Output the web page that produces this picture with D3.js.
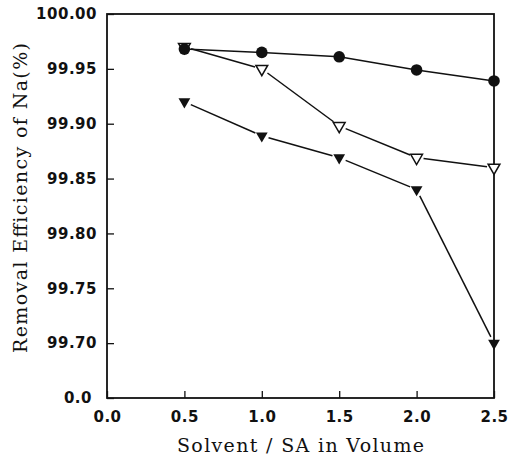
<!DOCTYPE html>
<html>
<head>
<meta charset="utf-8">
<script src="https://cdn.jsdelivr.net/npm/d3@7"></script>
<style>
  body { margin: 0; background: #fff; }
  .tick text { font-family: "DejaVu Sans", sans-serif; font-weight: bold; font-size: 15px; letter-spacing: 0.5px; fill: #111; }
  .title { font-family: "DejaVu Serif", serif; font-size: 19px; fill: #111; }
</style>
</head>
<body>
<script>
// Data
var ratio = [0.5, 1.0, 1.5, 2.0, 2.5];
var circleSeries = [99.968, 99.965, 99.961, 99.949, 99.939];
var openTriSeries = [99.970, 99.950, 99.898, 99.869, 99.860];
var filledTriSeries = [99.920, 99.889, 99.869, 99.840, 99.700];

var xTicks = [0.0, 0.5, 1.0, 1.5, 2.0, 2.5];
var yTicks = [99.65, 99.70, 99.75, 99.80, 99.85, 99.90, 99.95, 100.00];
var yTickLabels = ["0.0", "99.70", "99.75", "99.80", "99.85", "99.90", "99.95", "100.00"];

// Width and height
var w = 511;
var h = 461;
var plotLeft = 107, plotRight = 494, plotTop = 14, plotBottom = 398;

var x = d3.scaleLinear().domain([0, 2.5]).range([plotLeft, plotRight]);
var y = d3.scaleLinear().domain([99.65, 100.0]).range([plotBottom, plotTop]);

var svg = d3.select("body")
      .append("svg")
      .attr("width", w)
      .attr("height", h);

// Frame
svg.append("rect")
   .attr("x", plotLeft).attr("y", plotTop)
   .attr("width", plotRight - plotLeft).attr("height", plotBottom - plotTop)
   .attr("fill", "none").attr("stroke", "#111").attr("stroke-width", 1.8);

// Axes, ticks pointing inward
var xAxis = d3.axisBottom(x)
      .tickValues(xTicks)
      .tickSize(-7)
      .tickPadding(13)
      .tickFormat(d3.format(".1f"));

var yAxis = d3.axisLeft(y)
      .tickValues(yTicks)
      .tickSize(-7)
      .tickPadding(10)
      .tickFormat(function(d, i) { return yTickLabels[i]; });

svg.append("g")
   .attr("transform", "translate(0," + plotBottom + ")")
   .call(xAxis)
   .call(function(g) { g.select(".domain").remove(); })
   .selectAll("line").attr("stroke", "#111").attr("stroke-width", 1.3);

var yg = svg.append("g")
   .attr("transform", "translate(" + plotLeft + ",0)")
   .call(yAxis)
   .call(function(g) { g.select(".domain").remove(); });
yg.selectAll("line").attr("stroke", "#111").attr("stroke-width", 1.3);
// the broken-axis "0.0" sits a little further left
yg.selectAll(".tick text").filter(function(d) { return d === 99.65; }).attr("dx", -5);

// Axis titles
svg.append("text")
   .attr("class", "title")
   .attr("x", (plotLeft + plotRight) / 2)
   .attr("y", 452)
   .attr("text-anchor", "middle")
   .attr("textLength", 247)
   .attr("lengthAdjust", "spacing")
   .text("Solvent / SA in Volume");

svg.append("text")
   .attr("class", "title")
   .attr("transform", "translate(27," + 198 + ") rotate(-90)")
   .attr("text-anchor", "middle")
   .attr("textLength", 310)
   .attr("lengthAdjust", "spacing")
   .text("Removal Efficiency of Na(%)");

// Build points for each series
function pts(vals) {
  return ratio.map(function(r, i) { return [x(r), y(vals[i])]; });
}

// Lines, cut short near the triangle markers
function drawLine(vals, gap) {
  var p = pts(vals);
  for (var i = 0; i < p.length - 1; i++) {
    var dx = p[i + 1][0] - p[i][0], dy = p[i + 1][1] - p[i][1];
    var len = Math.sqrt(dx * dx + dy * dy);
    var ux = dx / len, uy = dy / len;
    svg.append("line")
       .attr("x1", p[i][0] + ux * gap).attr("y1", p[i][1] + uy * gap)
       .attr("x2", p[i + 1][0] - ux * gap).attr("y2", p[i + 1][1] - uy * gap)
       .attr("stroke", "#111").attr("stroke-width", 1.5);
  }
}

drawLine(filledTriSeries, 7);
drawLine(openTriSeries, 7);
drawLine(circleSeries, 0);

var tri = d3.symbol().type(d3.symbolTriangle).size(60);

svg.selectAll(".openTri")
   .data(pts(openTriSeries))
   .enter()
   .append("path")
   .attr("d", tri)
   .attr("transform", function(d) { return "translate(" + d[0] + "," + d[1] + ") rotate(180)"; })
   .attr("fill", "#fff").attr("stroke", "#111").attr("stroke-width", 1.5);

svg.selectAll(".filledTri")
   .data(pts(filledTriSeries))
   .enter()
   .append("path")
   .attr("d", tri)
   .attr("transform", function(d) { return "translate(" + d[0] + "," + d[1] + ") rotate(180)"; })
   .attr("fill", "#111");

svg.selectAll(".dot")
   .data(pts(circleSeries))
   .enter()
   .append("circle")
   .attr("cx", function(d) { return d[0]; })
   .attr("cy", function(d) { return d[1]; })
   .attr("r", 5.8)
   .attr("fill", "#111");
</script>
</body>
</html>
